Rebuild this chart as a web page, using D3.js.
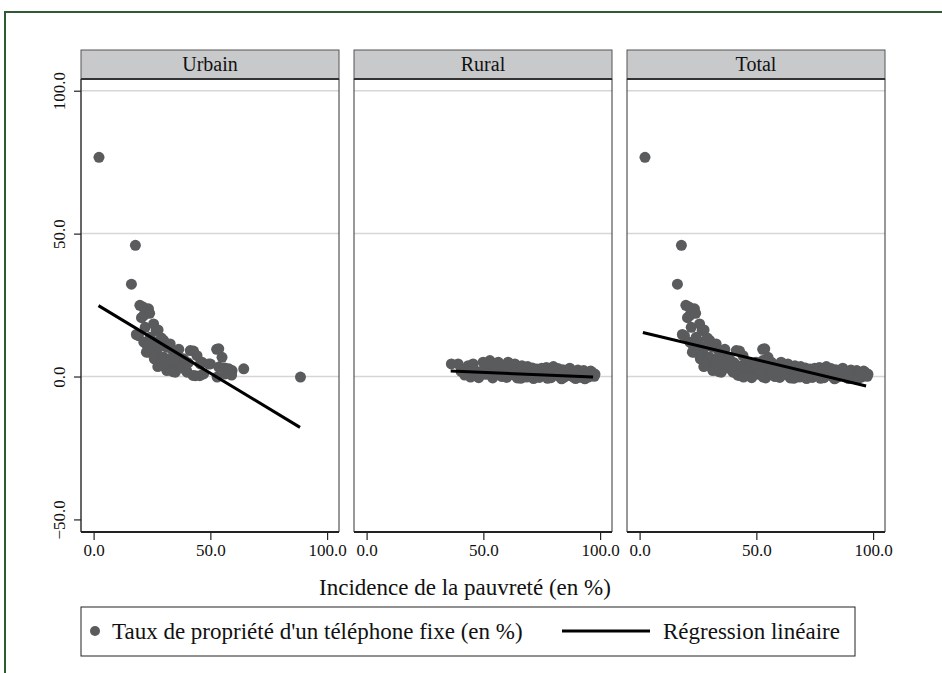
<!DOCTYPE html>
<html lang="fr">
<head>
    <meta charset="UTF-8">
    <title>Téléphone fixe et pauvreté</title>
    <script src="https://d3js.org/d3.v7.min.js"></script>
    <style>
        body { margin: 0; background: #fff; }
    </style>
</head>
<body>
    <div id="chart"></div>

    <script>
        // valeurs : [incidence, taux]
        const urbainPoints = [
            [2.3, 76.7], [17.9, 45.9], [16.2, 32.3],
            [19.8, 24.9], [21.2, 24.3], [23.5, 23.7], [21.4, 21.3], [20.5, 20.6], [24.0, 22.1],
            [22.1, 17.2], [25.7, 18.4], [26.8, 16.1], [27.6, 16.3], [19.2, 14.3], [18.3, 14.7],
            [24.2, 13.7], [21.5, 12.0], [23.0, 10.8], [30.0, 12.6], [32.8, 11.4], [31.5, 10.2],
            [23.5, 8.5], [22.6, 8.5], [27.1, 7.9], [25.5, 9.6], [28.4, 10.5], [26.0, 6.2],
            [34.2, 8.5], [35.5, 7.9], [41.4, 9.1], [42.8, 8.9], [44.3, 7.3], [28.5, 5.0],
            [29.7, 4.4], [32.8, 3.8], [31.2, 2.7], [34.0, 1.7], [37.1, 3.3], [36.5, 5.5],
            [38.5, 6.2], [30.0, 6.7], [33.0, 6.1], [40.0, 1.5], [39.8, 2.1], [42.6, 0.4],
            [43.6, 0.3], [45.5, 0.3], [47.1, 0.9], [46.4, 5.0], [45.7, 4.4], [49.3, 4.4],
            [50.0, 4.4], [52.7, 9.5], [53.6, 9.7], [55.0, 6.7], [53.6, 3.3], [56.2, 3.0],
            [57.9, 2.7], [59.3, 2.1], [59.1, 0.5], [56.4, 0.9], [52.9, -0.2], [64.3, 2.7],
            [88.6, -0.2], [35.0, 1.5], [31.4, 2.1], [27.5, 3.5], [25.0, 12.5], [29.0, 13.5],
            [36.5, 9.5], [38.0, 3.0], [40.5, 4.8]
        ];

        const ruralPoints = [
            [36.3, 4.4], [39.2, 4.4], [40.5, 1.8], [42.0, 0.5], [43.5, 3.8], [44.0, 1.2],
            [45.6, 4.4], [46.0, 2.5], [47.0, 0.2], [48.5, 1.5], [49.9, 5.0], [50.5, 3.0],
            [51.0, 0.8], [52.8, 5.6], [53.0, 2.2], [54.0, -0.5], [54.5, 1.4], [55.5, 3.6],
            [56.4, 5.0], [57.0, 0.6], [57.5, 2.5], [58.5, 1.2], [59.0, 3.8], [60.6, 5.0],
            [60.0, -0.3], [61.0, 2.0], [62.0, 0.8], [62.5, 3.2], [63.5, 4.4], [64.0, 1.5],
            [64.5, -0.5], [65.5, 2.6], [66.0, 0.4], [66.5, 3.8], [67.0, 1.4], [68.0, 2.2],
            [68.5, -0.2], [69.0, 3.5], [70.0, 0.9], [70.5, 1.9], [71.0, 3.0], [72.0, 0.2],
            [72.5, 1.5], [73.0, 2.6], [74.0, -0.3], [74.5, 1.0], [75.0, 2.9], [76.0, 1.8],
            [76.5, 0.3], [77.0, 3.2], [78.0, 1.1], [78.5, 2.4], [79.0, -0.4], [80.0, 3.5],
            [80.5, 0.8], [81.0, 1.9], [82.0, 2.8], [82.5, 0.1], [83.0, 1.4], [84.0, 2.4],
            [84.5, -0.3], [85.0, 0.9], [86.0, 2.0], [86.5, 0.4], [87.0, 2.9], [88.0, 1.2],
            [88.5, -0.2], [89.0, 1.8], [90.0, 0.5], [90.5, 2.3], [91.0, 1.1], [92.0, -0.3],
            [92.5, 1.6], [93.0, 2.1], [94.0, 0.4], [94.5, 1.3], [95.0, -0.2], [95.5, 0.8],
            [96.0, 1.9], [96.5, 0.3], [97.0, 1.2], [97.5, 0.1], [97.8, 0.8], [58.0, 0.0],
            [52.0, 1.0], [48.0, -0.4], [44.5, -0.2], [66.0, -0.6], [71.5, -0.7], [77.5, -0.6],
            [83.5, -0.8], [89.5, -0.7], [93.5, -0.8]
        ];

        // droites de régression (extrémités)
        const urbainFit = [[2.1, 24.8], [88.4, -17.8]];
        const ruralFit = [[36.0, 1.9], [97.0, -0.2]];
        const totalFit = [[1.4, 15.4], [97.0, -3.3]];

        const panelNames = ["Urbain", "Rural", "Total"];
        const xTicks = [0, 50, 100];
        const yTicks = [-50, 0, 50, 100];
        const gridTicks = [0, 50, 100];

        const panels = [
            { name: panelNames[0], points: urbainPoints, fit: urbainFit },
            { name: panelNames[1], points: ruralPoints, fit: ruralFit },
            { name: panelNames[2], points: urbainPoints.concat(ruralPoints), fit: totalFit }
        ];

        const width = 942, height = 673;
        const plotTop = 79, plotBottom = 532, stripTop = 50;
        const panelLeft = 81, panelWidth = 258, panelGap = 15;
        const dotColor = "#5a5b5d";
        const serif = "Liberation Serif";

        const svg = d3.select("#chart")
            .append("svg")
            .attr("width", width)
            .attr("height", height)
            .attr("font-family", serif);

        // cadre vert extérieur
        svg.append("rect")
            .attr("x", 5).attr("y", 12)
            .attr("width", 1000).attr("height", 1000)
            .attr("fill", "none")
            .attr("stroke", "#305a34")
            .attr("stroke-width", 2);

        const y = d3.scaleLinear().domain([-54.4, 104.1]).range([plotBottom, plotTop]);

        panels.forEach((p, i) => {
            const x0 = panelLeft + i * (panelWidth + panelGap);
            const x = d3.scaleLinear().domain([-5.4, 105.1]).range([x0, x0 + panelWidth]);
            const g = svg.append("g");

            g.selectAll(".grid")
                .data(gridTicks)
                .enter().append("line")
                .attr("x1", x0).attr("x2", x0 + panelWidth)
                .attr("y1", d => y(d)).attr("y2", d => y(d))
                .attr("stroke", "#d6d6d6")
                .attr("stroke-width", 1.5);

            g.selectAll("circle")
                .data(p.points)
                .enter().append("circle")
                .attr("cx", d => x(d[0]))
                .attr("cy", d => y(d[1]))
                .attr("r", 5.5)
                .attr("fill", dotColor);

            g.append("path")
                .datum(p.fit)
                .attr("d", d3.line().x(d => x(d[0])).y(d => y(d[1])))
                .attr("stroke", "#000")
                .attr("stroke-width", 3)
                .attr("fill", "none");

            // côtés du panneau
            g.append("line")
                .attr("x1", x0).attr("x2", x0)
                .attr("y1", plotTop).attr("y2", plotBottom)
                .attr("stroke", "#333").attr("stroke-width", i === 0 ? 1.5 : 1);
            g.append("line")
                .attr("x1", x0 + panelWidth).attr("x2", x0 + panelWidth)
                .attr("y1", plotTop).attr("y2", plotBottom)
                .attr("stroke", "#333").attr("stroke-width", 1);

            // bandeau du titre
            g.append("rect")
                .attr("x", x0).attr("y", stripTop)
                .attr("width", panelWidth).attr("height", plotTop - stripTop)
                .attr("fill", "#c8c9cb")
                .attr("stroke", "#555").attr("stroke-width", 1);
            g.append("line")
                .attr("x1", x0).attr("x2", x0 + panelWidth)
                .attr("y1", plotTop).attr("y2", plotTop)
                .attr("stroke", "#333").attr("stroke-width", 2);
            g.append("text")
                .attr("x", x0 + panelWidth / 2).attr("y", stripTop + 21)
                .attr("text-anchor", "middle")
                .attr("fill", "#111")
                .style("font-size", "20px")
                .text(p.name);

            const xAxis = d3.axisBottom(x)
                .tickValues(xTicks)
                .tickSize(8)
                .tickPadding(4)
                .tickFormat(d3.format(".1f"));

            const ax = g.append("g")
                .attr("transform", "translate(0," + plotBottom + ")")
                .call(xAxis)
                .attr("font-family", serif)
                .attr("font-size", 17);
            ax.select(".domain").remove();
            ax.append("line")
                .attr("x1", x0).attr("x2", x0 + panelWidth)
                .attr("stroke", "#222").attr("stroke-width", 2);
            ax.selectAll(".tick line").attr("stroke", "#222").attr("stroke-width", 1.2);
            ax.selectAll(".tick text").attr("fill", "#111");
        });

        const yAxis = d3.axisLeft(y)
            .tickValues(yTicks)
            .tickSize(7)
            .tickFormat(d3.format(".1f"));

        const ay = svg.append("g")
            .attr("transform", "translate(" + panelLeft + ",0)")
            .call(yAxis)
            .attr("font-family", serif)
            .attr("font-size", 17);
        ay.select(".domain").remove();
        ay.selectAll(".tick line").attr("stroke", "#222").attr("stroke-width", 1.2);
        ay.selectAll(".tick text")
            .attr("x", 0).attr("y", -16).attr("dy", 0)
            .attr("transform", "rotate(-90)")
            .attr("text-anchor", "middle")
            .attr("fill", "#111");

        svg.append("text")
            .attr("x", 465).attr("y", 595)
            .attr("text-anchor", "middle")
            .attr("fill", "#111")
            .style("font-size", "23px")
            .text("Incidence de la pauvreté (en %)");

        // légende
        const leg = svg.append("g").attr("fill", "#111").style("font-size", "23px");
        leg.append("rect")
            .attr("x", 81).attr("y", 607)
            .attr("width", 774).attr("height", 49)
            .attr("fill", "#fff")
            .attr("stroke", "#222").attr("stroke-width", 1);
        leg.append("circle")
            .attr("cx", 95).attr("cy", 631).attr("r", 5)
            .attr("fill", dotColor);
        leg.append("text")
            .attr("x", 112).attr("y", 639)
            .text("Taux de propriété d'un téléphone fixe (en %)");
        leg.append("line")
            .attr("x1", 562).attr("x2", 650)
            .attr("y1", 631).attr("y2", 631)
            .attr("stroke", "#000").attr("stroke-width", 3);
        leg.append("text")
            .attr("x", 663).attr("y", 639)
            .text("Régression linéaire");
    </script>
</body>
</html>
